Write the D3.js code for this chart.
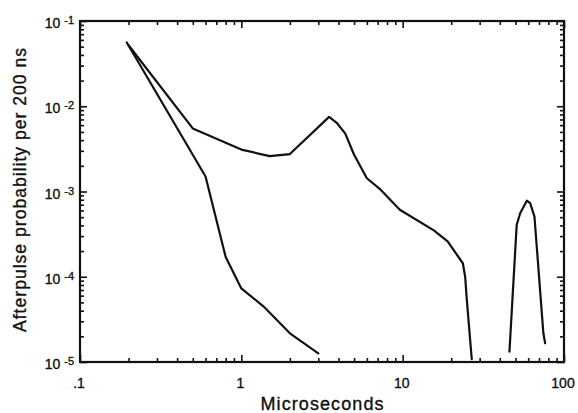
<!doctype html>
<html>
<head>
<script src="https://cdnjs.cloudflare.com/ajax/libs/d3/7.8.5/d3.min.js"></script>
<style>
body { margin: 0; background: #fff; }
svg { display: block; font-family: "Liberation Sans", Arial, sans-serif; }
svg text { fill: #111; stroke: #111; stroke-width: 0.35px; }
.curve { fill: none; stroke: #111; stroke-width: 2.2; stroke-linejoin: round; stroke-linecap: round; }
.tick line { stroke: #111; stroke-width: 1.6; }
.frame { fill: none; stroke: #111; stroke-width: 2.2; }
</style>
</head>
<body>
<svg width="578" height="413"></svg>
<script>
// upper curve (with the bump near 3.5 us)
var upperX = [0.2, 0.5, 1.0, 1.5, 2.0, 3.5, 3.9, 4.4, 5.0, 6.0, 7.3, 9.6, 15.6, 19.0, 23.6, 24.4, 24.9, 26.8];
var upperY = [0.052, 0.0055, 0.0031, 0.0026, 0.00275, 0.0075, 0.0064, 0.0048, 0.0027, 0.00143, 0.00105, 0.00061, 0.00035, 0.00026, 0.000144, 0.0001, 0.000058, 0.0000108];
// lower curve
var lowerX = [0.195, 0.6, 0.8, 1.0, 1.37, 2.0, 3.0];
var lowerY = [0.056, 0.0015, 0.00017, 0.000073, 0.000045, 0.0000217, 0.0000126];
// late peak
var peakX = [45.9, 50.9, 53.5, 58.8, 61.7, 65.6, 74.5, 76.4];
var peakY = [0.0000132, 0.000405, 0.000555, 0.00078, 0.00073, 0.000507, 0.0000217, 0.0000166];

var xMajor = [0.1, 1, 10, 100];
var xLabels = [".1", "1", "10", "100"];
var yMajor = [1e-1, 1e-2, 1e-3, 1e-4, 1e-5];
var yExp = ["-1", "-2", "-3", "-4", "-5"];

var svg = d3.select("svg");
var mLeft = 80, mRight = 564, mTop = 21, mBottom = 362;

var x = d3.scaleLog().domain([0.1, 100]).range([mLeft, mRight]);
var y = d3.scaleLog().domain([1e-5, 1e-1]).range([mBottom, mTop]);

var xMinor = x.ticks().filter(d => xMajor.indexOf(d) < 0);
var yMinor = y.ticks().filter(d => yMajor.indexOf(d) < 0);

function addAxis(axisFn, scale, values, size, tr) {
  svg.append("g")
    .attr("transform", tr)
    .call(axisFn(scale).tickValues(values).tickSize(-size).tickFormat(""))
    .call(g => g.select(".domain").remove());
}

addAxis(d3.axisBottom, x, xMinor, 4, "translate(0," + mBottom + ")");
addAxis(d3.axisBottom, x, xMajor, 7, "translate(0," + mBottom + ")");
addAxis(d3.axisTop, x, xMinor, 4, "translate(0," + mTop + ")");
addAxis(d3.axisTop, x, xMajor, 7, "translate(0," + mTop + ")");
addAxis(d3.axisLeft, y, yMinor, 4, "translate(" + mLeft + ",0)");
addAxis(d3.axisLeft, y, yMajor, 7, "translate(" + mLeft + ",0)");
addAxis(d3.axisRight, y, yMinor, 4, "translate(" + mRight + ",0)");
addAxis(d3.axisRight, y, yMajor, 7, "translate(" + mRight + ",0)");

svg.append("rect").attr("class", "frame")
  .attr("x", mLeft).attr("y", mTop)
  .attr("width", mRight - mLeft).attr("height", mBottom - mTop);

var line = d3.line().x(d => x(d[0])).y(d => y(d[1]));
[[upperX, upperY], [lowerX, lowerY], [peakX, peakY]].forEach(s => {
  svg.append("path").attr("class", "curve")
    .attr("d", line(d3.zip(s[0], s[1])));
});

// x tick labels
svg.selectAll("text.xl").data(xMajor).enter().append("text")
  .attr("class", "xl")
  .attr("x", d => x(d) - 1)
  .attr("y", mBottom + 26)
  .attr("text-anchor", "middle")
  .style("font-size", "14px")
  .text((d, i) => xLabels[i]);

// y tick labels as 10 with superscript exponent
var yl = svg.selectAll("text.yl").data(yMajor).enter().append("text")
  .attr("class", "yl")
  .attr("x", 74)
  .attr("y", d => y(d) + 7)
  .attr("text-anchor", "end");
yl.append("tspan").style("font-size", "14px").text("10");
yl.append("tspan").attr("dx", 4).attr("dy", -4).style("font-size", "11px")
  .text((d, i) => yExp[i]);

svg.append("text")
  .attr("x", (mLeft + mRight) / 2)
  .attr("y", 410)
  .attr("text-anchor", "middle")
  .attr("textLength", 123)
  .attr("lengthAdjust", "spacing")
  .style("font-size", "18px")
  .text("Microseconds");

svg.append("text")
  .attr("transform", "translate(26,190) rotate(-90)")
  .attr("text-anchor", "middle")
  .attr("textLength", 284)
  .attr("lengthAdjust", "spacing")
  .style("font-size", "17.5px")
  .text("Afterpulse probability per 200 ns");
</script>
</body>
</html>
